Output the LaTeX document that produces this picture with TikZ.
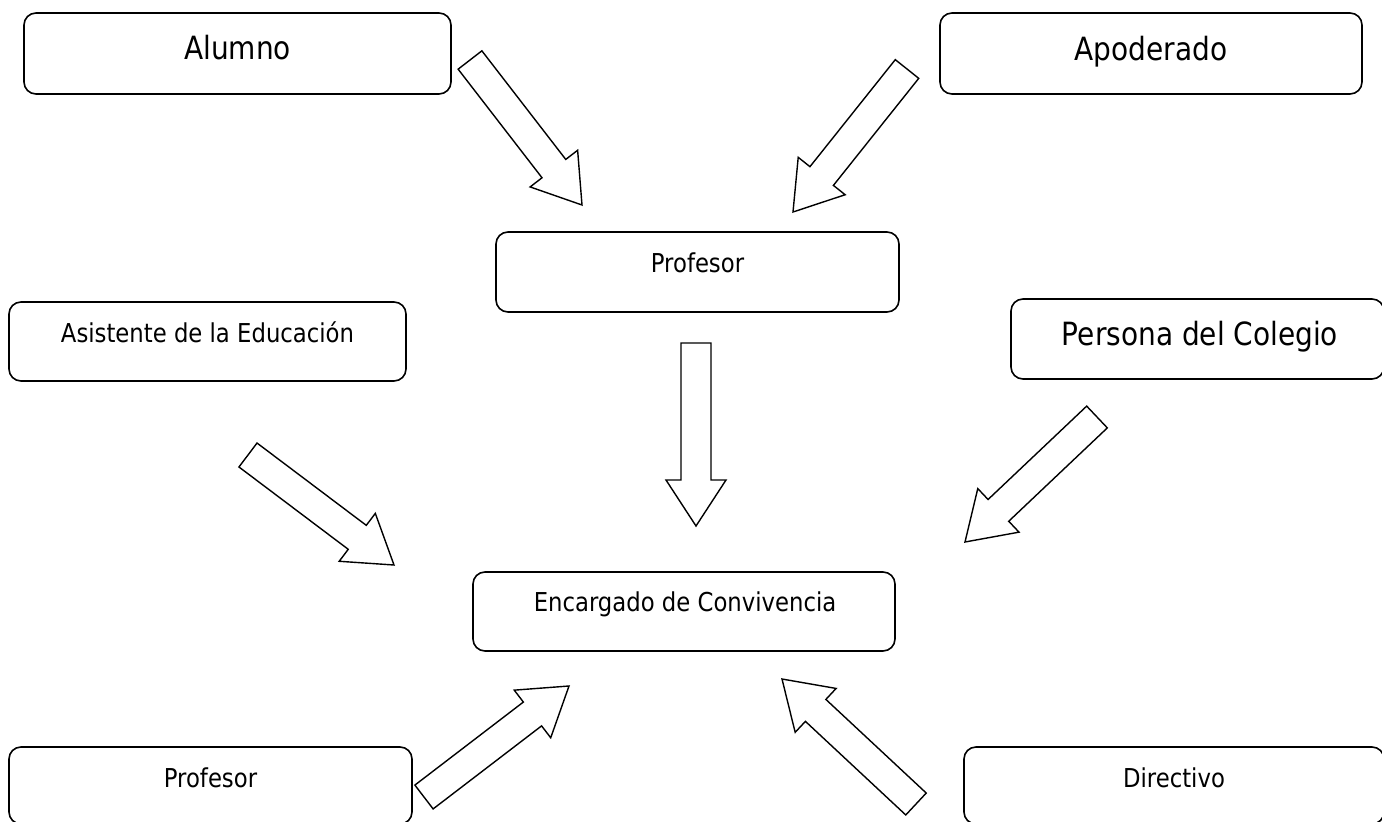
\documentclass[tikz,border=0pt]{standalone}
\usepackage{fontspec}
\setmainfont{DejaVu Sans}[FakeStretch=0.875]
\usetikzlibrary{calc}

% hollow block arrow from tail centre #1 to tip #2
\newcommand\blockarrow[2]{%
  \coordinate (ba-h) at ($(#2)!46pt!(#1)$);
  \draw[blockline]
    ($(#1)!15pt!90:(#2)$) -- ($(ba-h)!15pt!90:(#2)$) -- ($(ba-h)!30pt!90:(#2)$)
    -- (#2)
    -- ($(ba-h)!30pt!-90:(#2)$) -- ($(ba-h)!15pt!-90:(#2)$) -- ($(#1)!15pt!-90:(#2)$)
    -- cycle;
}

\tikzset{
  box/.style={draw=black, line width=1.6pt, rounded corners=12pt, fill=white,
              inner sep=0pt, outer sep=0pt},
  big/.style={font=\fontsize{32}{38}\selectfont, anchor=base, inner sep=0pt},
  small/.style={font=\fontsize{26}{31}\selectfont, anchor=base, inner sep=0pt},
  blockline/.style={draw=black, line width=1.4pt, line join=miter, fill=white},
}

\begin{document}
\begin{tikzpicture}[x=1pt, y=-1pt]
\useasboundingbox (0,0) rectangle (1382,822);

% boxes
\node[box, minimum width=427pt, minimum height=81pt] (alumno)    at (237.5,53.5) {};
\node[box, minimum width=422pt, minimum height=81pt] (apoderado) at (1151,53.5) {};
\node[box, minimum width=403pt, minimum height=80pt] (profA)     at (697.5,272) {};
\node[box, minimum width=397pt, minimum height=79pt] (asistente) at (207.5,341.5) {};
\node[box, minimum width=373pt, minimum height=80pt] (persona)   at (1197.5,339) {};
\node[box, minimum width=422pt, minimum height=79pt] (encargado) at (684,611.5) {};
\node[box, minimum width=403pt, minimum height=77pt] (profB)     at (210.5,785.5) {};
\node[box, minimum width=420pt, minimum height=77pt] (directivo) at (1174,785.5) {};

% labels
\node[big]   (alumno-t)    at (237.5,59)   {Alumno};
\node[big]   (apoderado-t) at (1151,60)    {Apoderado};
\node[small] (profA-t)     at (697.5,272)  {Profesor};
\node[small] (asistente-t) at (207.5,342.5){Asistente de la Educación};
\node[big]   (persona-t)   at (1200,345)   {Persona del Colegio};
\node[small] (encargado-t) at (685,611.5)  {Encargado de Convivencia};
\node[small] (profB-t)     at (210.5,787.5){Profesor};
\node[small] (directivo-t) at (1174,787.5) {Directivo};

% arrow ends
\coordinate (a1s) at (470,60);   \coordinate (a1e) at (582,205);
\coordinate (a2s) at (907,69);   \coordinate (a2e) at (793,212);
\coordinate (a3s) at (696,343);  \coordinate (a3e) at (696,526);
\coordinate (a4s) at (248,455);  \coordinate (a4e) at (394,565);
\coordinate (a5s) at (1097,417); \coordinate (a5e) at (965,542);
\coordinate (a6s) at (424,797);  \coordinate (a6e) at (569,686);
\coordinate (a7s) at (916,804);  \coordinate (a7e) at (782,679);

\blockarrow{a1s}{a1e}
\blockarrow{a2s}{a2e}
\blockarrow{a3s}{a3e}
\blockarrow{a4s}{a4e}
\blockarrow{a5s}{a5e}
\blockarrow{a6s}{a6e}
\blockarrow{a7s}{a7e}
\end{tikzpicture}
\end{document}
